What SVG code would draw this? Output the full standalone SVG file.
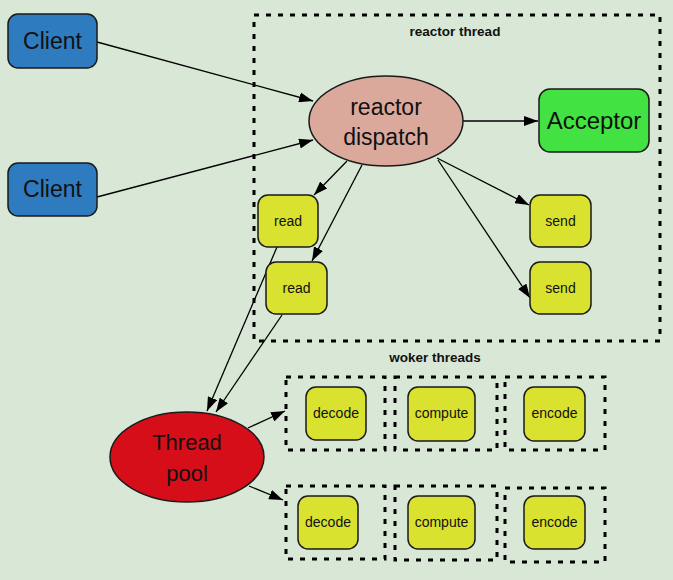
<svg xmlns="http://www.w3.org/2000/svg" width="673" height="580" viewBox="0 0 673 580">
<defs>
<marker id="ah" viewBox="0 0 14 10" refX="14" refY="5" markerWidth="14" markerHeight="10" markerUnits="userSpaceOnUse" orient="auto">
<path d="M0,0 L14,5 L0,10 z" fill="#000"/>
</marker>
<style>
.bg{fill:#d9e7d6}
.dash{fill:none;stroke:#000;stroke-width:3;stroke-dasharray:5 7}
.client{fill:#2f7bc0;stroke:#1a1a1a;stroke-width:1.5}
.yel{fill:#d9e22f;stroke:#1a1a1a;stroke-width:1.5}
.acc{fill:#42e243;stroke:#1a1a1a;stroke-width:1.5}
.disp{fill:#dba99c;stroke:#1a1a1a;stroke-width:1.5}
.pool{fill:#d50e19;stroke:#1a1a1a;stroke-width:1.5}
.big{font-family:"Liberation Sans",Arial,sans-serif;font-size:23px;fill:#111;text-anchor:middle}
.sm{font-family:"Liberation Sans",Arial,sans-serif;font-size:14px;fill:#111;text-anchor:middle}
.lbl{font-family:"Liberation Sans",Arial,sans-serif;font-size:13.5px;font-weight:bold;fill:#111;text-anchor:middle}
.conn line{stroke:#000;stroke-width:1.3;marker-end:url(#ah)}
</style>
</defs>
<rect class="bg" x="0" y="0" width="673" height="580"/>

<g id="reactor-thread">
<rect class="dash" x="254" y="15" width="406" height="326"/>
<text class="lbl" x="455" y="36">reactor thread</text>
</g>
<g id="worker-threads-label">
<text class="lbl" x="435" y="362">woker threads</text>
</g>
<g id="worker-boxes">
<rect class="dash" x="286" y="377" width="99" height="73"/>
<rect class="dash" x="395" y="377" width="102" height="73"/>
<rect class="dash" x="505" y="377" width="100" height="73"/>
<rect class="dash" x="286" y="486" width="99" height="73"/>
<rect class="dash" x="395" y="486" width="102" height="74"/>
<rect class="dash" x="505" y="488" width="100" height="74"/>
</g>

<g class="conn" id="connectors">
<line x1="97" y1="42" x2="313" y2="101"/>
<line x1="97" y1="197" x2="313" y2="140"/>
<line x1="463" y1="121" x2="538" y2="121"/>
<line x1="347" y1="161" x2="314" y2="195"/>
<line x1="362" y1="165" x2="312" y2="261"/>
<line x1="437" y1="158" x2="529" y2="205"/>
<line x1="438" y1="160" x2="530" y2="298"/>
<line x1="277" y1="247" x2="207" y2="411"/>
<line x1="282" y1="315" x2="216" y2="412"/>
<line x1="248" y1="428" x2="285" y2="411"/>
<line x1="249" y1="486" x2="283" y2="500"/>
</g>

<g id="client1"><rect class="client" x="8" y="14" width="89" height="54" rx="10"/><text class="big" x="52.5" y="49">Client</text></g>
<g id="client2"><rect class="client" x="8" y="163" width="89" height="53" rx="10"/><text class="big" x="52.5" y="197">Client</text></g>

<g id="reactor-dispatch"><ellipse class="disp" cx="386" cy="121" rx="77" ry="45"/><text class="big" x="386" y="115">reactor</text><text class="big" x="386" y="145">dispatch</text></g>
<g id="acceptor"><rect class="acc" x="539" y="89" width="110" height="63" rx="11"/><text class="big" x="594" y="129" style="font-size:24px">Acceptor</text></g>

<g id="read1"><rect class="yel" x="258" y="195" width="60" height="52" rx="10"/><text class="sm" x="288" y="226">read</text></g>
<g id="read2"><rect class="yel" x="266" y="262" width="61" height="52" rx="10"/><text class="sm" x="296.5" y="293">read</text></g>
<g id="send1"><rect class="yel" x="530" y="195" width="61" height="52" rx="10"/><text class="sm" x="560.5" y="226">send</text></g>
<g id="send2"><rect class="yel" x="530" y="262" width="61" height="52" rx="10"/><text class="sm" x="560.5" y="293">send</text></g>

<g id="thread-pool"><ellipse class="pool" cx="187" cy="457" rx="77" ry="45"/><text class="big" x="187" y="450" style="font-size:22px">Thread</text><text class="big" x="187" y="481" style="font-size:22px">pool</text></g>

<g id="decode1"><rect class="yel" x="306" y="387" width="60" height="53" rx="10"/><text class="sm" x="336" y="418">decode</text></g>
<g id="compute1"><rect class="yel" x="408" y="387" width="67" height="54" rx="10"/><text class="sm" x="441.5" y="418">compute</text></g>
<g id="encode1"><rect class="yel" x="524" y="387" width="61" height="54" rx="10"/><text class="sm" x="554.5" y="418">encode</text></g>
<g id="decode2"><rect class="yel" x="298" y="496" width="60" height="53" rx="10"/><text class="sm" x="328" y="527">decode</text></g>
<g id="compute2"><rect class="yel" x="408" y="496" width="67" height="53" rx="10"/><text class="sm" x="441.5" y="527">compute</text></g>
<g id="encode2"><rect class="yel" x="524" y="496" width="61" height="53" rx="10"/><text class="sm" x="554.5" y="527">encode</text></g>
</svg>
